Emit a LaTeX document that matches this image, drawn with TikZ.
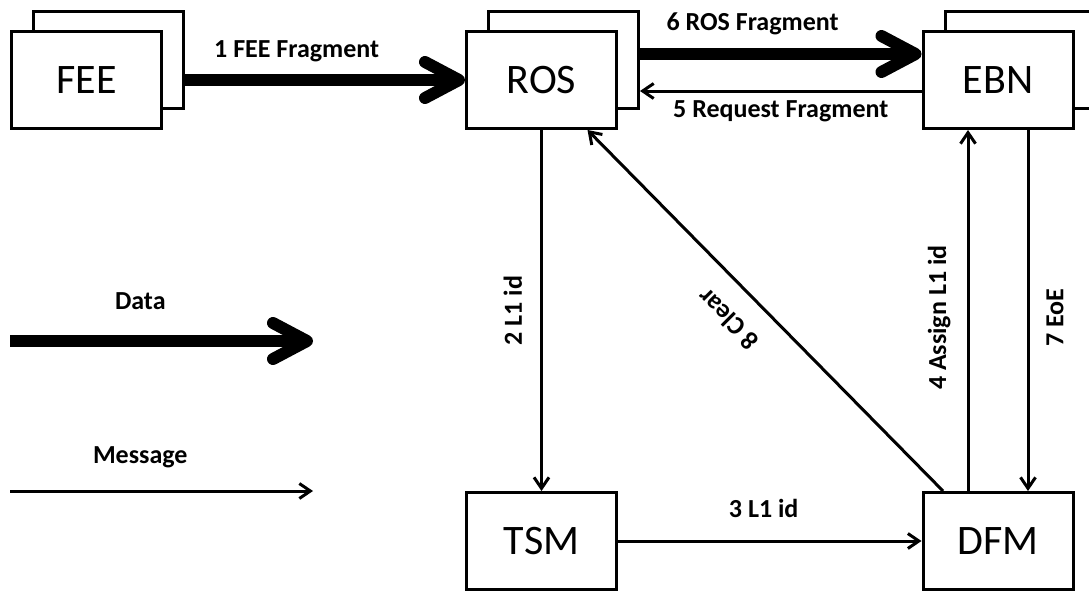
\documentclass[tikz,border=0pt]{standalone}
\usepackage{fontspec}
\setmainfont{Carlito}
\usetikzlibrary{arrows.meta, calc}

\begin{document}
\begin{tikzpicture}[x=1pt, y=-1pt,
    box/.style={rectangle, draw, line width=3pt, fill=white,
                minimum width=150pt, minimum height=97pt, inner sep=0pt,
                font=\fontsize{42}{50}\selectfont},
    data/.style={-{Straight Barb[length=34pt, width=36pt, round]}, line width=12pt},
    msg/.style={-{Straight Barb[length=11pt, width=15pt]}, line width=3pt},
    lbl/.style={font=\fontsize{26}{30}\selectfont\bfseries, inner sep=0pt}
]
\useasboundingbox (0,0) rectangle (1089,594);

% Stacked boxes (back copy first)
\node[box] (feeBack) at (108,60)   {};
\node[box] (fee)     at (86.5,80)  {FEE};
\node[box] (rosBack) at (563.5,60) {};
\node[box] (ros)     at (541.5,80) {ROS};
\node[box] (ebnBack) at (1020,60)  {};
\node[box] (ebn)     at (998,80)   {EBN};

% Single boxes
\node[box] (tsm) at (541.5,541) {TSM};
\node[box] (dfm) at (998,541)   {DFM};

% Data flows
\draw[data] (feeBack.east |- fee.center) -- node[lbl, pos=.4, above, inner sep=12pt]{1 FEE Fragment} (ros.west);
\coordinate (rosOut) at ([yshift=6pt]rosBack.east);
\draw[data] (rosOut) -- node[lbl, pos=.4, above, inner sep=13pt]{6 ROS Fragment} (rosOut -| ebn.west);

% Messages
\coordinate (ebnOut) at ([yshift=-11pt]ebn.west);
\draw[msg] (ebnOut) -- node[lbl, below, inner sep=8pt]{5 Request Fragment} (ebnOut -| rosBack.east);
\draw[msg] (ros) -- node[lbl, rotate=90, anchor=south, inner sep=18pt]{2 L1 id} (tsm);
\draw[msg] (tsm) -- node[lbl, pos=.48, above, inner sep=22pt]{3 L1 id} (dfm);
\draw[msg] ([xshift=-30pt]dfm.north) -- node[lbl, pos=.48, rotate=90, anchor=south, inner sep=16pt]{4 Assign L1 id} ([xshift=-30pt]ebn.south);
\draw[msg] ([xshift=30pt]ebn.south) -- node[lbl, pos=.52, rotate=90, anchor=north, inner sep=17pt]{7 EoE} ([xshift=30pt]dfm.north);
\draw[msg] ([xshift=-55pt]dfm.north) -- node[lbl, pos=.54, rotate=135, anchor=south, inner sep=22pt]{8 Clear} ([xshift=46pt]ros.south);

% Legend
\coordinate (dataL) at (10,341);
\coordinate (dataR) at (313,341);
\draw[data] (dataL) -- node[lbl, pos=.43, above, inner sep=25pt]{Data} (dataR);
\coordinate (msgL) at (10,491);
\coordinate (msgR) at (313,491);
\draw[msg] (msgL) -- node[lbl, pos=.43, above, inner sep=22pt]{Message} (msgR);

\end{tikzpicture}
\end{document}
